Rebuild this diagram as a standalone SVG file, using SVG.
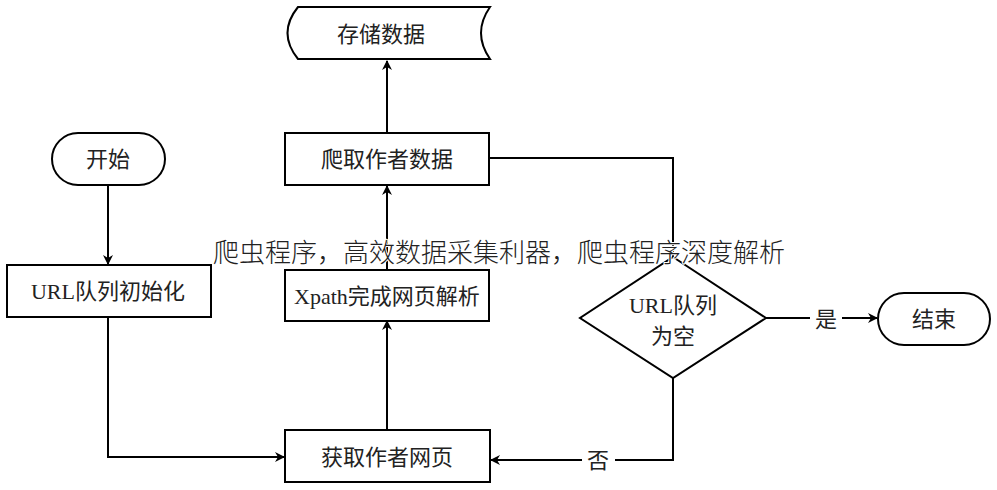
<svg xmlns="http://www.w3.org/2000/svg" width="997" height="490" viewBox="0 0 997 490">
<defs>
<marker id="arr" markerWidth="10" markerHeight="10" refX="9" refY="5" orient="auto" markerUnits="userSpaceOnUse">
<path d="M0,0 L10,5 L0,10 L3,5 Z" fill="#000"/>
</marker>
<style>
.shape{fill:#fff;stroke:#000;stroke-width:2}
.t{font-family:"Liberation Serif","Noto Sans CJK SC",serif;font-size:22px;fill:#222;text-anchor:middle;dominant-baseline:central}
.line{fill:none;stroke:#000;stroke-width:2}
.title{font-family:"Noto Sans CJK SC",sans-serif;font-size:26px;font-weight:300;fill:#222;text-anchor:middle;stroke:#fff;stroke-width:2;paint-order:stroke;stroke-linejoin:round}
</style>
</defs>
<rect width="997" height="490" fill="#fff"/>
<g id="connectors">
<path class="line" d="M108,185 V264" marker-end="url(#arr)"/>
<path class="line" d="M108,317 V457 H284" marker-end="url(#arr)"/>
<path class="line" d="M387,430 V321" marker-end="url(#arr)"/>
<path class="line" d="M387,270 V186" marker-end="url(#arr)"/>
<path class="line" d="M387,133 V61" marker-end="url(#arr)"/>
<path class="line" d="M489,158 H673 V257"/>
<path class="line" d="M766,318 H810"/>
<path class="line" d="M842,318 H877" marker-end="url(#arr)"/>
<path class="line" d="M673,378 V460 H615"/>
<path class="line" d="M582,460 H491" marker-end="url(#arr)"/>
<text class="t" x="826" y="319">是</text>
<text class="t" x="598" y="460">否</text>
</g>
<g id="storage">
<path class="shape" d="M298,7 H490 Q472,33 490,59 H298 Q277,33 298,7 Z"/>
<text class="t" x="381" y="34">存储数据</text>
</g>
<g id="start">
<rect class="shape" x="52" y="133" width="113" height="52" rx="26"/>
<text class="t" x="108" y="159">开始</text>
</g>
<g id="init">
<rect class="shape" x="7" y="265" width="204" height="52"/>
<text class="t" x="108" y="291">URL队列初始化</text>
</g>
<g id="crawl">
<rect class="shape" x="285" y="133" width="204" height="52"/>
<text class="t" x="387" y="159">爬取作者数据</text>
</g>
<g id="xpath">
<rect class="shape" x="285" y="270" width="204" height="51"/>
<text class="t" x="387" y="296">Xpath完成网页解析</text>
</g>
<g id="fetch">
<rect class="shape" x="285" y="430" width="205" height="52"/>
<text class="t" x="387" y="457">获取作者网页</text>
</g>
<g id="decision">
<path class="shape" d="M673,257 L766,318 L673,378 L580,318 Z"/>
<text class="t" x="673" y="305">URL队列</text>
<text class="t" x="673" y="336">为空</text>
</g>
<g id="end">
<rect class="shape" x="878" y="293" width="112" height="52" rx="26"/>
<text class="t" x="934" y="319">结束</text>
</g>
<text class="title" x="499" y="262">爬虫程序，高效数据采集利器，爬虫程序深度解析</text>
</svg>
